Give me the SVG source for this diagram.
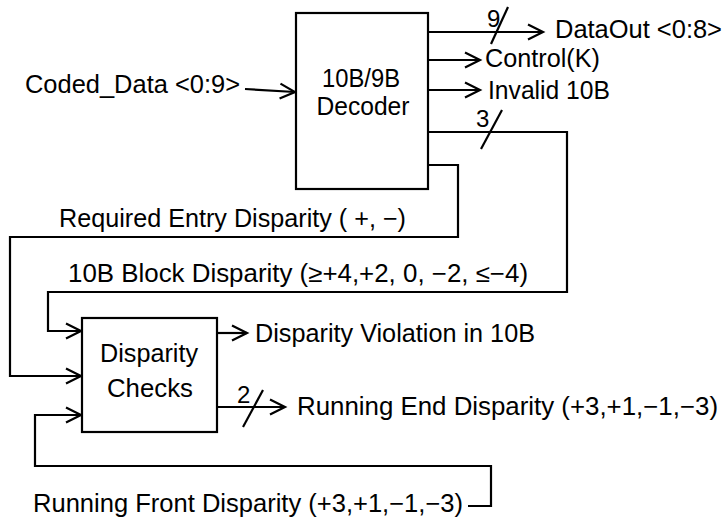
<svg xmlns="http://www.w3.org/2000/svg" width="724" height="521" viewBox="0 0 724 521">
  <style>
    .box { fill: #fff; stroke: #000; stroke-width: 2.2; }
    .wire { fill: none; stroke: #000; stroke-width: 2.2; }
    .arrow { marker-end: url(#chev); }
    .bus { fill: none; stroke: #000; stroke-width: 2.2; }
    text { font-family: "Liberation Sans", Arial, sans-serif; font-size: 25px; fill: #000; }
    .blk { text-anchor: middle; }
    .num { font-size: 24px; }
  </style>
  <defs>
    <marker id="chev" markerUnits="userSpaceOnUse" markerWidth="20" markerHeight="20" viewBox="-17 -10 20 20" refX="0" refY="0" orient="auto" overflow="visible">
      <path d="M-15,-7.5 L0,0 L-15,7.5" fill="none" stroke="#000" stroke-width="2.2"/>
    </marker>
  </defs>
  <rect width="724" height="521" fill="#fff"/>

  <g id="connectors">
    <!-- decoder input -->
    <path class="wire arrow" d="M245,89 L295,92"/>
    <text x="25" y="93" textLength="215" lengthAdjust="spacingAndGlyphs">Coded_Data &lt;0:9&gt;</text>

    <!-- decoder outputs -->
    <path class="wire arrow" d="M428,32 L543,32"/>
    <line class="bus" x1="491" y1="44" x2="508" y2="7"/>
    <text class="num" x="487" y="27">9</text>
    <text x="555" y="38" textLength="167" lengthAdjust="spacingAndGlyphs">DataOut &lt;0:8&gt;</text>

    <path class="wire arrow" d="M428,60 L480,60"/>
    <text x="485" y="67" textLength="115" lengthAdjust="spacingAndGlyphs">Control(K)</text>

    <path class="wire arrow" d="M428,90 L480,90"/>
    <text x="488" y="99" textLength="122" lengthAdjust="spacingAndGlyphs">Invalid 10B</text>

    <!-- block disparity feedback -->
    <path class="wire arrow" d="M428,132 L567,132 L567,292 L48,292 L48,331 L81,331"/>
    <line class="bus" x1="481" y1="149" x2="502" y2="110"/>
    <text class="num" x="476" y="127">3</text>
    <text x="68" y="282" textLength="460" lengthAdjust="spacingAndGlyphs">10B Block Disparity (≥+4,+2, 0, −2, ≤−4)</text>

    <!-- required entry disparity -->
    <path class="wire arrow" d="M428,165 L458,165 L458,237 L10,237 L10,376 L81,376"/>
    <text x="59" y="227" textLength="347" lengthAdjust="spacingAndGlyphs">Required Entry Disparity ( +, −)</text>

    <!-- disparity checks outputs -->
    <path class="wire arrow" d="M217,333 L247,333"/>
    <text x="255" y="342" textLength="280" lengthAdjust="spacingAndGlyphs">Disparity Violation in 10B</text>

    <path class="wire arrow" d="M217,407 L285,407"/>
    <line class="bus" x1="243" y1="427" x2="263" y2="390"/>
    <text class="num" x="237" y="403">2</text>
    <text x="297" y="415" textLength="421" lengthAdjust="spacingAndGlyphs">Running End Disparity (+3,+1,−1,−3)</text>

    <!-- running front disparity loop -->
    <path class="wire arrow" d="M468,506 L491,506 L491,466 L35,466 L35,415 L81,415"/>
    <text x="33" y="512" textLength="430" lengthAdjust="spacingAndGlyphs">Running Front Disparity (+3,+1,−1,−3)</text>
  </g>

  <g id="decoder">
    <rect class="box" x="296" y="13" width="132" height="176"/>
    <text class="blk" x="361" y="87" textLength="78" lengthAdjust="spacingAndGlyphs">10B/9B</text>
    <text class="blk" x="363" y="115" textLength="93" lengthAdjust="spacingAndGlyphs">Decoder</text>
  </g>

  <g id="disparity-checks">
    <rect class="box" x="82" y="318" width="135" height="114"/>
    <text class="blk" x="149" y="362" textLength="98" lengthAdjust="spacingAndGlyphs">Disparity</text>
    <text class="blk" x="150" y="397" textLength="86" lengthAdjust="spacingAndGlyphs">Checks</text>
  </g>
</svg>
